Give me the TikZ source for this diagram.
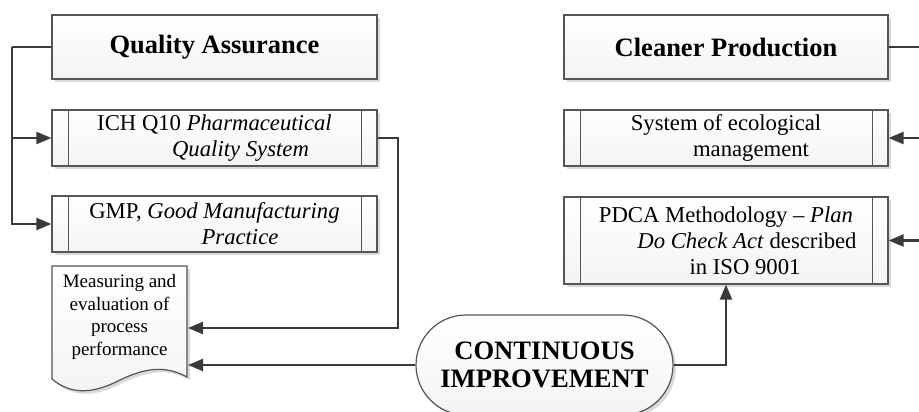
\documentclass[tikz,border=0pt]{standalone}
\usepackage{fontspec}
\setmainfont{Liberation Serif}
\usetikzlibrary{arrows.meta,shadows,calc}
\definecolor{linec}{HTML}{3A3A3A}
\definecolor{borderc}{HTML}{555555}
\definecolor{shadowc}{HTML}{DADADA}
\tikzset{
  box/.style={rectangle, draw=borderc, line width=1.2pt, top color=white, bottom color=gray!9,
    drop shadow={shadow xshift=3pt, shadow yshift=-3pt, fill=shadowc, opacity=1},
    inner sep=0pt, align=center},
  titlebox/.style={box, minimum height=64pt, font=\fontsize{26.5}{30}\selectfont\bfseries},
  subbox/.style={box, font=\fontsize{22.7}{26}\selectfont,
    path picture={
      \draw[borderc, line width=1pt] ([xshift=16pt]path picture bounding box.north west) -- ([xshift=16pt]path picture bounding box.south west);
      \draw[borderc, line width=1pt] ([xshift=-16pt]path picture bounding box.north east) -- ([xshift=-16pt]path picture bounding box.south east);
    }},
  conn/.style={draw=linec, line width=2.2pt, -{Triangle[length=15pt,width=12pt]}},
  plainconn/.style={draw=linec, line width=2.2pt},
}
\begin{document}
\begin{tikzpicture}[x=1pt,y=-1pt]
\useasboundingbox (0,0) rectangle (919,412);

% boxes
\node[titlebox, minimum width=325pt] (qa) at (214.5,47) {Quality Assurance};
\node[titlebox, minimum width=324pt] (cp) at (726,47) {Cleaner Production};
\node[subbox, minimum width=325pt, minimum height=56pt] (ich) at (214.5,138)
  {ICH Q10 \textit{Pharmaceutical}\\\hspace*{52pt}\textit{Quality System}};
\node[subbox, minimum width=325pt, minimum height=56pt] (gmp) at (214.5,224)
  {GMP, \textit{Good Manufacturing}\\\hspace*{51pt}\textit{Practice}};
\node[subbox, minimum width=324pt, minimum height=56pt] (sys) at (726,138)
  {System of ecological\\\hspace*{50pt}management};
\node[subbox, minimum width=324pt, minimum height=87pt] (pdca) at (726,240.5)
  {PDCA Methodology -- \textit{Plan}\\\hspace*{42pt}\textit{Do Check Act} described\\\hspace*{38pt}in ISO 9001};

% document shape
\fill[shadowc, shift={(3,3)}] (52,266) -- (187,266) -- (187,377)
  .. controls (165,365) and (145,368) .. (120,380)
  .. controls (95,393) and (72,396) .. (52,379) -- cycle;
\draw[borderc, line width=1.2pt, top color=white, bottom color=gray!9] (52,266) -- (187,266) -- (187,377)
  .. controls (165,365) and (145,368) .. (120,380)
  .. controls (95,393) and (72,396) .. (52,379) -- cycle;
\node[align=center, font=\fontsize{19}{22.5}\selectfont, inner sep=0pt] (meas) at (119.5,317)
  {Measuring and\\evaluation of\\process\\performance};
\coordinate (measA) at (188,328);
\coordinate (measB) at (188,365);

% continuous improvement
\node[rectangle, rounded corners=50pt, draw=borderc, line width=1.2pt, top color=white, bottom color=gray!9,
  drop shadow={shadow xshift=3pt, shadow yshift=-3pt, fill=shadowc, opacity=1},
  minimum width=257pt, minimum height=100pt, inner sep=0pt, align=center,
  font=\fontsize{26.6}{28.5}\selectfont\bfseries] (ci) at (544.5,365) {CONTINUOUS\\IMPROVEMENT};

% connectors left
\coordinate (lbus) at (12,47);
\draw[plainconn] (qa.west) -- (lbus);
\draw[conn] (lbus) |- (ich.west);
\draw[conn] (lbus) |- (gmp.west);
\coordinate (ichR) at (398,138);
\draw[conn] (ich.east) -- (ichR) |- (measA);
\draw[conn] (ci.west) -- (measB);

% connectors right
\coordinate (rbus) at (922,47);
\draw[plainconn] (cp.east) -- (rbus) -- (922,240.5);
\draw[conn] (922,138) -- (sys.east);
\draw[conn] (922,240.5) -- (pdca.east);
\draw[conn] (ci.east) -| (pdca.south);
\end{tikzpicture}
\end{document}
